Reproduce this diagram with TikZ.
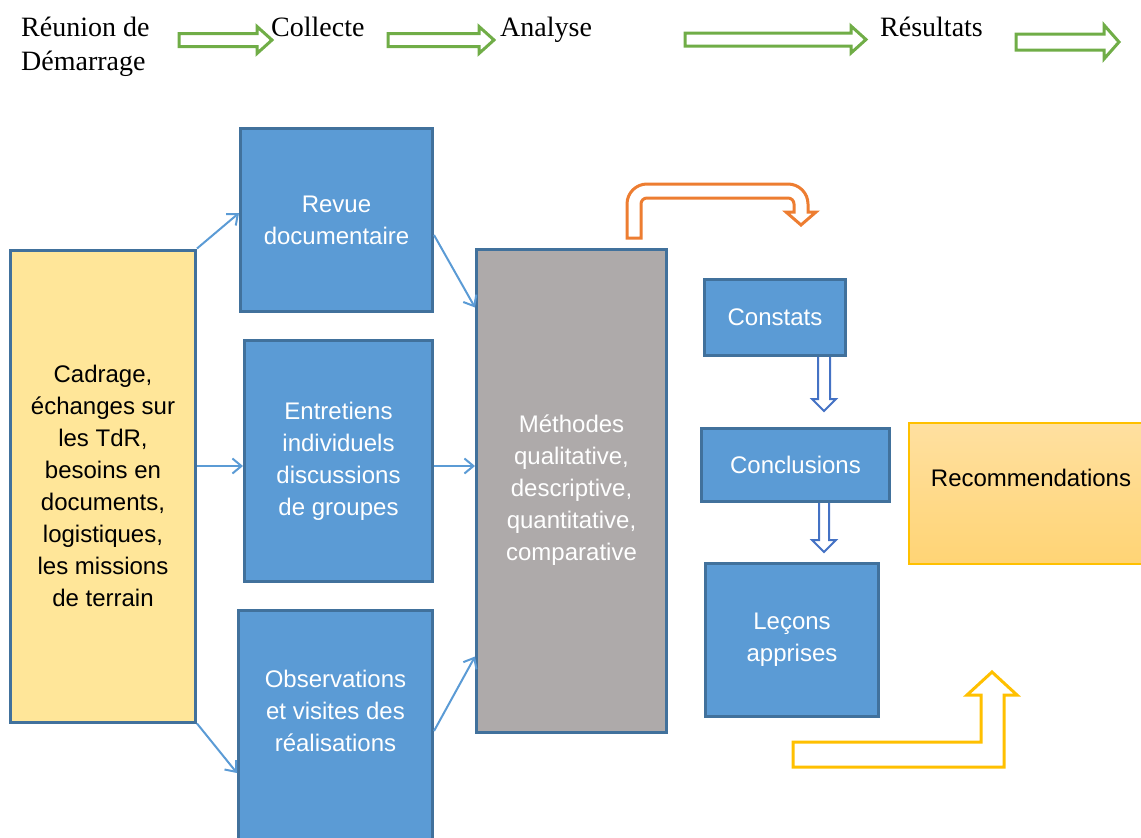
\documentclass[tikz,border=0pt]{standalone}
\usepackage{fontspec}
\setmainfont{Liberation Serif}
\newfontfamily\boxfont{Liberation Sans}
\usetikzlibrary{arrows.meta, positioning, calc}
\definecolor{officeBlue}{RGB}{91,155,213}
\definecolor{boxBorder}{RGB}{65,113,156}
\definecolor{paleYellow}{RGB}{255,230,153}
\definecolor{methodGray}{RGB}{174,170,170}
\definecolor{stageGreen}{RGB}{112,173,71}
\definecolor{loopOrange}{RGB}{237,125,49}
\definecolor{goldYellow}{RGB}{255,192,0}
\definecolor{deepBlue}{RGB}{68,114,196}
\definecolor{recTop}{RGB}{255,224,160}
\definecolor{recBottom}{RGB}{255,212,117}
% green block arrow: start x, tip x, centre y, shaft half, head half
\newcommand{\stageblock}[5]{%
    \draw[stagearrow] (#1,#3-#4) -- (#2-15,#3-#4) -- (#2-15,#3-#5) -- (#2,#3)
        -- (#2-15,#3+#5) -- (#2-15,#3+#4) -- (#1,#3+#4) -- cycle;}
\tikzset{
    stagetext/.style={
        inner sep=0pt,
        align=left,
        font=\fontsize{28}{34}\selectfont
    },
    phasebox/.style={
        rectangle,
        draw=boxBorder,
        line width=3pt,
        fill=officeBlue,
        text=white,
        align=center,
        inner sep=0pt,
        font=\boxfont\fontsize{24}{32}\selectfont
    },
    framebox/.style={phasebox, fill=paleYellow, text=black},
    methodbox/.style={phasebox, fill=methodGray},
    recbox/.style={
        rectangle,
        draw=goldYellow,
        line width=1.5pt,
        top color=recTop,
        bottom color=recBottom,
        inner sep=0pt
    },
    boxlabel/.style={anchor=center, align=center, inner sep=0pt, font=\boxfont\fontsize{24}{32}\selectfont},
    link/.style={-{Straight Barb[length=9pt, width=15pt]}, line width=2pt, draw=officeBlue},
    stagearrow/.style={draw=stageGreen, line width=3pt, fill=white},
    hollowarrow/.style={draw=deepBlue, line width=2pt, fill=white},
    bentarrow/.style={line width=3pt, fill=white}
}

\begin{document}
\begin{tikzpicture}[x=1pt, y=-1pt]
    \useasboundingbox (0,0) rectangle (1141,838);
    % stages
    \node[stagetext, anchor=north west] (demarrage) at (21,17) {R\'eunion de\\D\'emarrage};
    \node[stagetext, anchor=base west] (collecte) at (271,36) {Collecte};
    \node[stagetext, anchor=base west] (analyse) at (500,36) {Analyse};
    \node[stagetext, anchor=base west] (resultats) at (880,36) {R\'esultats};
    \stageblock{179}{272}{40}{6.5}{13.5}
    \stageblock{388}{494}{40}{6.5}{13.5}
    \stageblock{685}{866}{39.5}{6.5}{13.5}
    \stageblock{1016}{1119}{42}{8}{17}
    % boxes
    \node[framebox, minimum width=185, minimum height=472] (cadrage) at (103,486)
        {Cadrage,\\\'echanges sur\\les TdR,\\besoins en\\documents,\\logistiques,\\les missions\\de terrain};
    \node[phasebox, minimum width=192, minimum height=183] (revue) at (336.5,220) {Revue\\documentaire};
    \node[phasebox, minimum width=188, minimum height=241] (entretiens) at (338.5,461)
        {Entretiens\\individuels\\discussions\\de groupes};
    \node[phasebox, minimum width=194, minimum height=251, anchor=north,
        label={[boxlabel, text=white, yshift=25.5pt]center:Observations\\et visites des\\r\'ealisations}]
        (observations) at (335.5,609) {};
    \node[methodbox, minimum width=190, minimum height=483] (methodes) at (571.5,490.5)
        {M\'ethodes\\qualitative,\\descriptive,\\quantitative,\\comparative};
    \node[phasebox, minimum width=141, minimum height=76] (constats) at (775,317.5) {Constats};
    \node[phasebox, minimum width=188, minimum height=73] (conclusions) at (795.5,465) {Conclusions};
    \node[phasebox, minimum width=173, minimum height=153] (lecons) at (792,640) {Le\c{c}ons\\apprises};
    \node[recbox, minimum width=244, minimum height=141,
        label={[boxlabel, text=black, yshift=16pt]center:Recommendations}]
        (recom) at (1031,493.5) {};
    % links
    \draw[link] (cadrage.north east) -- ($(revue.west)+(0,-7)$);
    \draw[link] ([yshift=-5pt]cadrage.east |- entretiens.west) -- ([yshift=-5pt]entretiens.west);
    \draw[link] (cadrage.south east) -- ($(observations.north west)+(0,164)$);
    \draw[link] ($(revue.east)+(0,15)$) -- ($(methodes.north west)+(0,60)$);
    \draw[link] ([yshift=-5pt]entretiens.east) -- ([yshift=-5pt]methodes.west |- entretiens.east);
    \draw[link] ($(observations.north east)+(0,122)$) -- ($(methodes.south west)+(0,-77)$);
    % block arrows
    \draw[bentarrow, draw=loopOrange] (627,238) -- (627,204) arc[start angle=180, end angle=270, radius=20]
        -- (788,184) arc[start angle=270, end angle=360, radius=20] -- (808,212) -- (816,212) -- (801,225)
        -- (786,212) -- (794,212) -- (794,204) arc[start angle=0, end angle=-90, radius=6]
        -- (647,198) arc[start angle=270, end angle=180, radius=6] -- (641,238) -- cycle;
    \draw[hollowarrow] (818,357) -- (818,399) -- (812,399) -- (824,411) -- (836,399) -- (830,399) -- (830,357);
    \draw[hollowarrow] (819,503) -- (819,540) -- (812,540) -- (824,552) -- (836,540) -- (829,540) -- (829,503);
    \draw[bentarrow, draw=goldYellow] (793,742) -- (981,742) -- (981,695) -- (967,695) -- (992,672)
        -- (1017,695) -- (1004,695) -- (1004,767) -- (793,767) -- cycle;
\end{tikzpicture}
\end{document}
